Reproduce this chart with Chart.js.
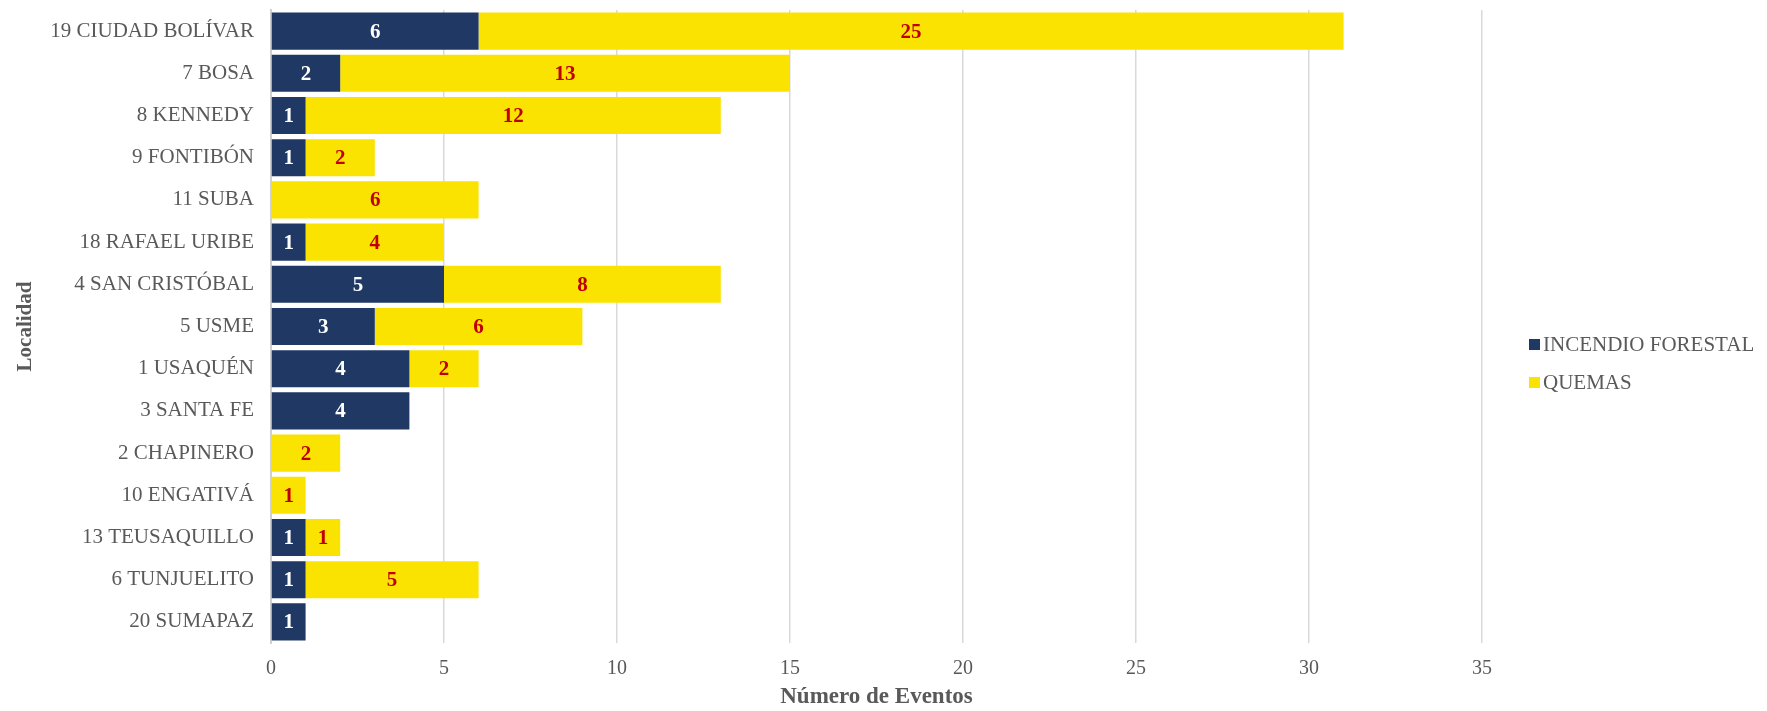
<!DOCTYPE html>
<html>
<head>
<meta charset="utf-8">
<script src="https://cdn.jsdelivr.net/npm/chart.js@4.4.1/dist/chart.umd.min.js"></script>
<style>
  html, body { margin: 0; padding: 0; background: #ffffff; }
  #wrap { width: 1767px; height: 711px; }
</style>
</head>
<body>
<div id="wrap"><canvas id="barChart" width="1767" height="711"></canvas></div>
<script>
const localidades = [
  "19 CIUDAD BOLÍVAR", "7 BOSA", "8 KENNEDY", "9 FONTIBÓN", "11 SUBA",
  "18 RAFAEL URIBE", "4 SAN CRISTÓBAL", "5 USME", "1 USAQUÉN", "3 SANTA FE",
  "2 CHAPINERO", "10 ENGATIVÁ", "13 TEUSAQUILLO", "6 TUNJUELITO", "20 SUMAPAZ"
];
const incendioForestal = [6, 2, 1, 1, null, 1, 5, 3, 4, 4, null, null, 1, 1, 1];
const quemas = [25, 13, 12, 2, 6, 4, 8, 6, 2, null, 2, 1, 1, 5, null];
const xTicks = [0, 5, 10, 15, 20, 25, 30, 35];

const FONT = "'Liberation Serif', 'Times New Roman', serif";
const GRIS = "#595959";
const AZUL = "#203864";
const AMARILLO = "#FAE300";

// etiquetas de valor dentro de cada barra
const valueLabels = {
  id: "valueLabels",
  afterDatasetsDraw(chart) {
    const { ctx } = chart;
    ctx.save();
    ctx.font = "bold 21px " + FONT;
    ctx.textAlign = "center";
    ctx.textBaseline = "middle";
    chart.data.datasets.forEach((ds, i) => {
      const meta = chart.getDatasetMeta(i);
      meta.data.forEach((bar, j) => {
        const v = ds.data[j];
        if (v === null || v === undefined) return;
        ctx.fillStyle = i === 0 ? "#ffffff" : "#C00000";
        ctx.fillText(String(v), (bar.x + bar.base) / 2, bar.y + 1);
      });
    });
    ctx.restore();
  },
};

// leyenda a la derecha
const sideLegend = {
  id: "sideLegend",
  afterDraw(chart) {
    const { ctx } = chart;
    ctx.save();
    ctx.font = "21px " + FONT;
    ctx.textBaseline = "middle";
    ctx.textAlign = "left";
    chart.data.datasets.forEach((ds, i) => {
      const y = 344 + i * 38;
      ctx.fillStyle = ds.backgroundColor;
      ctx.fillRect(1529, y - 5, 11, 11);
      ctx.fillStyle = GRIS;
      ctx.fillText(ds.label, 1543, y + 1);
    });
    ctx.restore();
  },
};

const ctx = document.getElementById("barChart").getContext("2d");

new Chart(ctx, {
  type: "bar",
  data: {
    labels: localidades,
    datasets: [
      { label: "INCENDIO FORESTAL", data: incendioForestal, backgroundColor: AZUL },
      { label: "QUEMAS", data: quemas, backgroundColor: AMARILLO },
    ],
  },
  options: {
    indexAxis: "y",
    responsive: false,
    animation: false,
    barPercentage: 0.88,
    categoryPercentage: 1,
    layout: { padding: { top: 10, right: 285, left: 0, bottom: 0 } },
    scales: {
      x: {
        stacked: true,
        min: 0,
        max: 35,
        afterBuildTicks: (scale) => {
          scale.ticks = xTicks.map((v) => ({ value: v }));
        },
        afterFit: (scale) => {
          scale.height = 68;
          scale.paddingLeft = 0;
          scale.paddingRight = 0;
        },
        grid: { color: "#D9D9D9", lineWidth: 1.5, drawTicks: false },
        border: { display: false },
        ticks: { color: GRIS, font: { family: FONT, size: 20 }, padding: 14 },
        title: {
          display: true,
          text: "Número de Eventos",
          color: GRIS,
          font: { family: FONT, size: 23, weight: "bold" },
          padding: { top: 0, bottom: 0 },
        },
      },
      y: {
        stacked: true,
        afterFit: (scale) => {
          scale.width = 271;
          scale.paddingTop = 0;
          scale.paddingBottom = 0;
        },
        grid: { display: false, drawTicks: false },
        border: { display: true, color: "#D0D0D0", width: 2 },
        ticks: { color: GRIS, font: { family: FONT, size: 21 }, padding: 17 },
        title: {
          display: true,
          text: "Localidad",
          color: GRIS,
          font: { family: FONT, size: 21, weight: "bold" },
          padding: { top: 13, bottom: 0 },
        },
      },
    },
    plugins: {
      legend: { display: false },
      tooltip: { enabled: false },
    },
  },
  plugins: [valueLabels, sideLegend],
});
</script>
</body>
</html>
